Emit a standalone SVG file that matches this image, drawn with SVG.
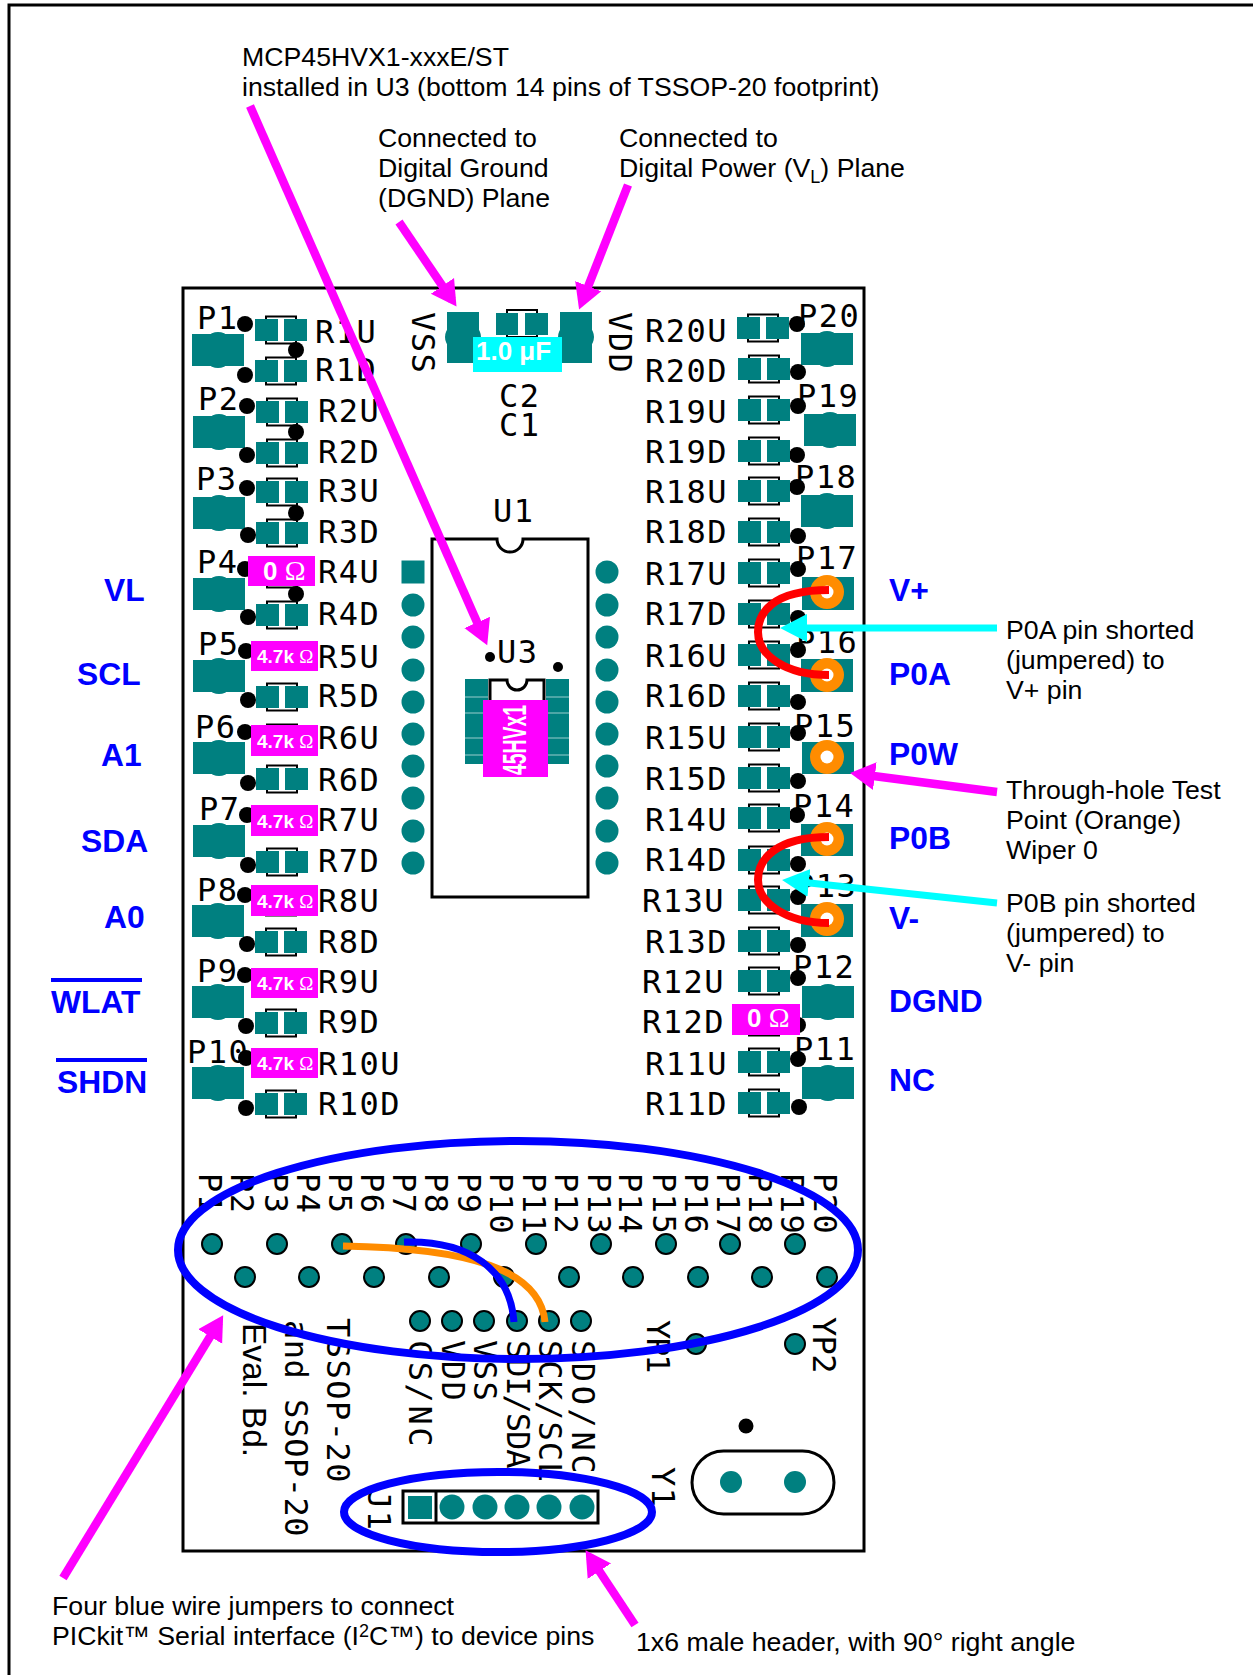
<svg xmlns="http://www.w3.org/2000/svg" width="1253" height="1675" viewBox="0 0 1253 1675">
<style>
.pcb{font-family:'DejaVu Sans Mono',monospace;font-size:32px;letter-spacing:1.500px;fill:#000}
.ann{font-family:'Liberation Sans',Arial,sans-serif;font-size:26.700px;fill:#000}
.sig{font-family:'Liberation Sans',Arial,sans-serif;font-size:31.800px;font-weight:bold;fill:#00f}
.lab{font-family:'Liberation Sans',Arial,sans-serif;font-weight:bold;fill:#fff}
.om{font-family:'Liberation Serif',serif;font-weight:normal}
.teal{fill:#008080}
.th{fill:#008080;stroke:#000;stroke-width:2}
.dot{fill:#000}
.mag{fill:#f0f}
.line{fill:none;stroke:#000;stroke-width:3}
.ma{fill:none;stroke:#f0f;stroke-width:8.500;marker-end:url(#mh)}
.ca{fill:none;stroke:#0ff;stroke-width:7;marker-end:url(#ch)}
.ring{fill:none;stroke:#00f;stroke-width:8}
.jump{fill:none;stroke:#f00;stroke-width:8}
</style>
<defs>
<marker id="mh" markerUnits="userSpaceOnUse" markerWidth="26" markerHeight="30" refX="17" refY="15" orient="auto"><path d="M0 1L25 15L0 29Z" fill="#f0f"/></marker>
<marker id="ch" markerUnits="userSpaceOnUse" markerWidth="28" markerHeight="30" refX="18" refY="15" orient="auto"><path d="M0 1L27 15L0 29Z" fill="#0ff"/></marker>
<g id="res"><rect x="11" y="-13.500" width="30" height="27" fill="none" stroke="#000" stroke-width="2"/><rect x="0" y="-11" width="23" height="22" class="teal"/><rect x="29" y="-11" width="23" height="22" class="teal"/></g>
<g id="bp"><rect x="0" y="-16" width="52" height="32" class="teal"/><ellipse cx="26" cy="0" rx="16" ry="18" class="teal"/></g>
<g id="tp"><circle r="17" fill="#ff8c00"/><circle r="6.500" fill="#fff"/></g>
</defs>
<rect id="frame" x="9" y="5" width="1300" height="1720" fill="#fff" stroke="#000" stroke-width="3"/>
<rect id="board" x="183" y="288" width="681" height="1263" class="line" fill="none"/>

<g id="p1"><use href="#bp" x="192" y="350"/><circle class="dot" cx="245" cy="324" r="8"/><circle class="dot" cx="245" cy="375" r="8"/><circle class="dot" cx="296" cy="350" r="8"/><text class="pcb" x="197" y="329">P1</text></g>
<g id="p2"><use href="#bp" x="193" y="432"/><circle class="dot" cx="247" cy="406" r="8"/><circle class="dot" cx="247" cy="455" r="8"/><circle class="dot" cx="296" cy="432" r="8"/><text class="pcb" x="198" y="410">P2</text></g>
<g id="p3"><use href="#bp" x="193" y="513"/><circle class="dot" cx="247" cy="488" r="8"/><circle class="dot" cx="248" cy="535" r="8"/><circle class="dot" cx="296" cy="513" r="8"/><text class="pcb" x="196" y="490">P3</text></g>
<g id="p4"><use href="#bp" x="193" y="594"/><circle class="dot" cx="245" cy="569" r="8"/><circle class="dot" cx="248" cy="617" r="8"/><circle class="dot" cx="296" cy="594" r="8"/><text class="pcb" x="197" y="573">P4</text></g>
<g id="p5"><use href="#bp" x="193" y="676"/><circle class="dot" cx="246" cy="651" r="8"/><circle class="dot" cx="248" cy="700" r="8"/><text class="pcb" x="198" y="655">P5</text></g>
<g id="p6"><use href="#bp" x="193" y="758"/><circle class="dot" cx="245" cy="732" r="8"/><circle class="dot" cx="248" cy="783" r="8"/><text class="pcb" x="195" y="738">P6</text></g>
<g id="p7"><use href="#bp" x="193" y="841"/><circle class="dot" cx="247" cy="815" r="8"/><circle class="dot" cx="248" cy="865" r="8"/><text class="pcb" x="199" y="820">P7</text></g>
<g id="p8"><use href="#bp" x="192" y="921"/><circle class="dot" cx="245" cy="895" r="8"/><circle class="dot" cx="247" cy="944" r="8"/><text class="pcb" x="197" y="901">P8</text></g>
<g id="p9"><use href="#bp" x="192" y="1002"/><circle class="dot" cx="245" cy="975" r="8"/><circle class="dot" cx="246" cy="1026" r="8"/><text class="pcb" x="197" y="982">P9</text></g>
<g id="p10"><use href="#bp" x="192" y="1083"/><circle class="dot" cx="246" cy="1058" r="8"/><circle class="dot" cx="246" cy="1108" r="8"/><text class="pcb" x="187" y="1063">P10</text></g>

<g id="r1u"><use href="#res" x="255" y="330"/><text class="pcb" x="315" y="343">R1U</text></g>
<g id="r1d"><use href="#res" x="255" y="371"/><text class="pcb" x="315" y="381">R1D</text></g>
<g id="r2u"><use href="#res" x="256" y="412"/><text class="pcb" x="318" y="422">R2U</text></g>
<g id="r2d"><use href="#res" x="256" y="453"/><text class="pcb" x="318" y="463">R2D</text></g>
<g id="r3u"><use href="#res" x="256" y="492"/><text class="pcb" x="318" y="502">R3U</text></g>
<g id="r3d"><use href="#res" x="256" y="533"/><text class="pcb" x="318" y="543">R3D</text></g>
<g id="r4u"><use href="#res" x="256" y="574"/><rect class="mag" x="248" y="556" width="67" height="30"/><text class="lab" x="263" y="580" font-size="26" font-family="Liberation Serif">0 <tspan class="om" font-size="28">Ω</tspan></text><text class="pcb" x="318" y="583">R4U</text></g>
<g id="r4d"><use href="#res" x="256" y="615"/><text class="pcb" x="318" y="625">R4D</text></g>
<g id="r5u"><use href="#res" x="256" y="656"/><rect class="mag" x="251" y="641" width="67" height="30"/><text class="lab" x="257" y="663" font-size="19">4.7k <tspan class="om">Ω</tspan></text><text class="pcb" x="318" y="668">R5U</text></g>
<g id="r5d"><use href="#res" x="256" y="697"/><text class="pcb" x="318" y="707">R5D</text></g>
<g id="r6u"><use href="#res" x="256" y="738"/><rect class="mag" x="251" y="725" width="67" height="31"/><text class="lab" x="257" y="748" font-size="19">4.7k <tspan class="om">Ω</tspan></text><text class="pcb" x="318" y="749">R6U</text></g>
<g id="r6d"><use href="#res" x="256" y="779"/><text class="pcb" x="318" y="791">R6D</text></g>
<g id="r7u"><use href="#res" x="256" y="820"/><rect class="mag" x="251" y="805" width="67" height="31"/><text class="lab" x="257" y="828" font-size="19">4.7k <tspan class="om">Ω</tspan></text><text class="pcb" x="318" y="831">R7U</text></g>
<g id="r7d"><use href="#res" x="256" y="862"/><text class="pcb" x="318" y="872">R7D</text></g>
<g id="r8u"><use href="#res" x="255" y="902"/><rect class="mag" x="251" y="885" width="67" height="31"/><text class="lab" x="257" y="908" font-size="19">4.7k <tspan class="om">Ω</tspan></text><text class="pcb" x="318" y="912">R8U</text></g>
<g id="r8d"><use href="#res" x="255" y="942"/><text class="pcb" x="318" y="953">R8D</text></g>
<g id="r9u"><use href="#res" x="255" y="983"/><rect class="mag" x="251" y="968" width="67" height="30"/><text class="lab" x="257" y="990" font-size="19">4.7k <tspan class="om">Ω</tspan></text><text class="pcb" x="318" y="993">R9U</text></g>
<g id="r9d"><use href="#res" x="255" y="1023"/><text class="pcb" x="318" y="1033">R9D</text></g>
<g id="r10u"><use href="#res" x="255" y="1063"/><rect class="mag" x="251" y="1048" width="67" height="30"/><text class="lab" x="257" y="1070" font-size="19">4.7k <tspan class="om">Ω</tspan></text><text class="pcb" x="318" y="1075">R10U</text></g>
<g id="r10d"><use href="#res" x="255" y="1104"/><text class="pcb" x="318" y="1115">R10D</text></g>

<g id="p20"><use href="#bp" x="801" y="349"/><circle class="dot" cx="797" cy="324" r="8"/><circle class="dot" cx="798" cy="372" r="8"/><text class="pcb" x="798" y="327">P20</text></g>
<g id="p19"><use href="#bp" x="804" y="430"/><circle class="dot" cx="798" cy="406" r="8"/><circle class="dot" cx="797" cy="455" r="8"/><text class="pcb" x="797" y="407">P19</text></g>
<g id="p18"><use href="#bp" x="801" y="511"/><circle class="dot" cx="797" cy="487" r="8"/><circle class="dot" cx="798" cy="536" r="8"/><text class="pcb" x="795" y="488">P18</text></g>
<g id="p17"><rect class="teal" x="802" y="577" width="52" height="33"/><circle class="dot" cx="798" cy="569" r="8"/><circle class="dot" cx="798" cy="618" r="8"/><text class="pcb" x="796" y="569">P17</text><use href="#tp" x="827" y="592"/></g>
<g id="p16"><rect class="teal" x="801" y="659" width="52" height="33"/><circle class="dot" cx="798" cy="650" r="8"/><circle class="dot" cx="798" cy="702" r="8"/><text class="pcb" x="796" y="653">P16</text><use href="#tp" x="827" y="675"/></g>
<g id="p15"><rect class="teal" x="802" y="742" width="52" height="32"/><circle class="dot" cx="798" cy="733" r="8"/><circle class="dot" cx="798" cy="781" r="8"/><text class="pcb" x="794" y="737">P15</text><use href="#tp" x="827" y="757"/></g>
<g id="p14"><rect class="teal" x="801" y="824" width="52" height="32"/><circle class="dot" cx="797" cy="815" r="8"/><circle class="dot" cx="798" cy="864" r="8"/><text class="pcb" x="793" y="817">P14</text><use href="#tp" x="827" y="839"/></g>
<g id="p13"><rect class="teal" x="801" y="904" width="52" height="33"/><text class="pcb" x="795" y="897">P13</text><circle class="dot" cx="798" cy="897" r="8"/><circle class="dot" cx="798" cy="945" r="8"/><use href="#tp" x="827" y="919"/></g>
<g id="p12"><use href="#bp" x="802" y="1002"/><circle class="dot" cx="798" cy="978" r="8"/><circle class="dot" cx="798" cy="1025" r="8"/><text class="pcb" x="793" y="978">P12</text></g>
<g id="p11"><use href="#bp" x="802" y="1083"/><circle class="dot" cx="798" cy="1059" r="8"/><circle class="dot" cx="799" cy="1107" r="8"/><text class="pcb" x="794" y="1060">P11</text></g>

<g id="r20u"><use href="#res" x="737" y="328"/><text class="pcb" x="645" y="342">R20U</text></g>
<g id="r20d"><use href="#res" x="738" y="369"/><text class="pcb" x="645" y="382">R20D</text></g>
<g id="r19u"><use href="#res" x="738" y="410"/><text class="pcb" x="645" y="423">R19U</text></g>
<g id="r19d"><use href="#res" x="738" y="451"/><text class="pcb" x="645" y="463">R19D</text></g>
<g id="r18u"><use href="#res" x="738" y="491"/><text class="pcb" x="645" y="503">R18U</text></g>
<g id="r18d"><use href="#res" x="738" y="532"/><text class="pcb" x="645" y="543">R18D</text></g>
<g id="r17u"><use href="#res" x="738" y="573"/><text class="pcb" x="645" y="585">R17U</text></g>
<g id="r17d"><use href="#res" x="738" y="614"/><text class="pcb" x="645" y="625">R17D</text></g>
<g id="r16u"><use href="#res" x="738" y="655"/><text class="pcb" x="645" y="667">R16U</text></g>
<g id="r16d"><use href="#res" x="738" y="696"/><text class="pcb" x="645" y="707">R16D</text></g>
<g id="r15u"><use href="#res" x="738" y="737"/><text class="pcb" x="645" y="749">R15U</text></g>
<g id="r15d"><use href="#res" x="738" y="778"/><text class="pcb" x="645" y="790">R15D</text></g>
<g id="r14u"><use href="#res" x="738" y="818"/><text class="pcb" x="645" y="831">R14U</text></g>
<g id="r14d"><use href="#res" x="738" y="860"/><text class="pcb" x="645" y="871">R14D</text></g>
<g id="r13u"><use href="#res" x="738" y="900"/><text class="pcb" x="642" y="912">R13U</text></g>
<g id="r13d"><use href="#res" x="738" y="941"/><text class="pcb" x="645" y="953">R13D</text></g>
<g id="r12u"><use href="#res" x="738" y="981"/><text class="pcb" x="642" y="993">R12U</text></g>
<g id="r12d"><use href="#res" x="738" y="1022"/><rect class="mag" x="732" y="1004" width="68" height="31"/><text class="lab" x="747" y="1027" font-size="26" font-family="Liberation Serif">0 <tspan class="om" font-size="28">Ω</tspan></text><text class="pcb" x="642" y="1033">R12D</text></g>
<g id="r11u"><use href="#res" x="738" y="1062"/><text class="pcb" x="645" y="1075">R11U</text></g>
<g id="r11d"><use href="#res" x="738" y="1103"/><text class="pcb" x="645" y="1115">R11D</text></g>

<g id="c1c2">
<rect class="teal" x="447" y="312" width="32" height="51"/><ellipse class="teal" cx="463" cy="337" rx="18" ry="16"/>
<rect class="teal" x="560" y="312" width="32" height="51"/><ellipse class="teal" cx="576" cy="337" rx="18" ry="16"/>
<rect x="507" y="310" width="30" height="27" fill="none" stroke="#000" stroke-width="2"/>
<rect class="teal" x="496" y="313" width="22" height="22"/><rect class="teal" x="525" y="313" width="23" height="22"/>
<rect x="473" y="337" width="89" height="35" fill="#0ff"/>
<text class="lab" x="476" y="360" font-size="26">1.0 μF</text>
<text class="pcb" x="499" y="407">C2</text><text class="pcb" x="499" y="436">C1</text>
<text class="pcb" transform="rotate(90 412 312)" x="412" y="312">VSS</text>
<text class="pcb" transform="rotate(90 609 312)" x="609" y="312">VDD</text>
</g>

<g id="u1">
<path class="line" d="M497 539H432V897H588V539H523A13 13 0 0 1 497 539Z"/>
<text class="pcb" x="493" y="522">U1</text>
<rect class="teal" x="401.500" y="560.500" width="23" height="23"/>
<circle class="teal" cx="413" cy="605" r="11.500"/><circle class="teal" cx="413" cy="637" r="11.500"/><circle class="teal" cx="413" cy="670" r="11.500"/><circle class="teal" cx="413" cy="702" r="11.500"/><circle class="teal" cx="413" cy="734" r="11.500"/><circle class="teal" cx="413" cy="766" r="11.500"/><circle class="teal" cx="413" cy="798" r="11.500"/><circle class="teal" cx="413" cy="831" r="11.500"/><circle class="teal" cx="413" cy="863" r="11.500"/>
<circle class="teal" cx="607" cy="572" r="11.500"/><circle class="teal" cx="607" cy="605" r="11.500"/><circle class="teal" cx="607" cy="637" r="11.500"/><circle class="teal" cx="607" cy="670" r="11.500"/><circle class="teal" cx="607" cy="702" r="11.500"/><circle class="teal" cx="607" cy="734" r="11.500"/><circle class="teal" cx="607" cy="766" r="11.500"/><circle class="teal" cx="607" cy="798" r="11.500"/><circle class="teal" cx="607" cy="831" r="11.500"/><circle class="teal" cx="607" cy="863" r="11.500"/>
</g>
<g id="u3">
<circle class="dot" cx="490" cy="657" r="5"/><circle class="dot" cx="558" cy="667" r="5"/>
<text class="pcb" x="497" y="663">U3</text>
<rect class="teal" x="465" y="679" width="23" height="85"/><rect class="teal" x="546" y="679" width="23" height="85"/>
<path d="M465 697H488M465 713H488M465 738H488M465 755H488M546 697H569M546 713H569M546 738H569M546 755H569" stroke="#9cc" stroke-width="1"/>
<path class="line" d="M490 720V680H507A10 10 0 0 0 527 680H544V720"/>
<rect class="mag" x="483" y="700" width="65" height="77"/>
<text class="ann" transform="rotate(-90 526 775)" x="526" y="775" textLength="70" lengthAdjust="spacingAndGlyphs" style="font-size:33px;font-weight:bold;fill:#fff">45HVx1</text>
</g>

<g id="testpoints">
<circle class="th" cx="212" cy="1244" r="10"/><circle class="th" cx="277" cy="1244" r="10"/><circle class="th" cx="342" cy="1244" r="10"/><circle class="th" cx="406" cy="1244" r="10"/><circle class="th" cx="471" cy="1244" r="10"/><circle class="th" cx="536" cy="1244" r="10"/><circle class="th" cx="601" cy="1244" r="10"/><circle class="th" cx="666" cy="1244" r="10"/><circle class="th" cx="730" cy="1244" r="10"/><circle class="th" cx="795" cy="1244" r="10"/>
<circle class="th" cx="245" cy="1277" r="10"/><circle class="th" cx="309" cy="1277" r="10"/><circle class="th" cx="374" cy="1277" r="10"/><circle class="th" cx="439" cy="1277" r="10"/><circle class="th" cx="504" cy="1277" r="10"/><circle class="th" cx="569" cy="1277" r="10"/><circle class="th" cx="633" cy="1277" r="10"/><circle class="th" cx="698" cy="1277" r="10"/><circle class="th" cx="762" cy="1277" r="10"/><circle class="th" cx="827" cy="1277" r="10"/>
<circle class="th" cx="420" cy="1321" r="10"/><circle class="th" cx="452" cy="1321" r="10"/><circle class="th" cx="484" cy="1321" r="10"/><circle class="th" cx="517" cy="1321" r="10"/><circle class="th" cx="549" cy="1321" r="10"/><circle class="th" cx="581" cy="1321" r="10"/>
<circle class="th" cx="696" cy="1344" r="10"/><circle class="th" cx="795" cy="1344" r="10"/>
</g>
<g id="tp-labels">
<text class="pcb" transform="rotate(90 199 1173)" x="199" y="1173">P1</text>
<text class="pcb" transform="rotate(90 231 1173)" x="231" y="1173">P2</text>
<text class="pcb" transform="rotate(90 265 1173)" x="265" y="1173">P3</text>
<text class="pcb" transform="rotate(90 297 1173)" x="297" y="1173">P4</text>
<text class="pcb" transform="rotate(90 329 1173)" x="329" y="1173">P5</text>
<text class="pcb" transform="rotate(90 361 1173)" x="361" y="1173">P6</text>
<text class="pcb" transform="rotate(90 393 1173)" x="393" y="1173">P7</text>
<text class="pcb" transform="rotate(90 425 1173)" x="425" y="1173">P8</text>
<text class="pcb" transform="rotate(90 458 1173)" x="458" y="1173">P9</text>
<text class="pcb" transform="rotate(90 490 1173)" x="490" y="1173">P10</text>
<text class="pcb" transform="rotate(90 523 1173)" x="523" y="1173">P11</text>
<text class="pcb" transform="rotate(90 555 1173)" x="555" y="1173">P12</text>
<text class="pcb" transform="rotate(90 588 1173)" x="588" y="1173">P13</text>
<text class="pcb" transform="rotate(90 619 1173)" x="619" y="1173">P14</text>
<text class="pcb" transform="rotate(90 653 1173)" x="653" y="1173">P15</text>
<text class="pcb" transform="rotate(90 685 1173)" x="685" y="1173">P16</text>
<text class="pcb" transform="rotate(90 717 1173)" x="717" y="1173">P17</text>
<text class="pcb" transform="rotate(90 749 1173)" x="749" y="1173">P18</text>
<text class="pcb" transform="rotate(90 781 1173)" x="781" y="1173">P19</text>
<text class="pcb" transform="rotate(90 814 1173)" x="814" y="1173">P20</text>
<text class="pcb" transform="rotate(90 327 1318)" x="327" y="1318">TSSOP-20</text>
<text class="pcb" transform="rotate(90 285 1320)" x="285" y="1320" textLength="218">and SSOP-20</text>
<text class="ann" transform="rotate(90 243 1323)" x="243" y="1323" style="font-size:33.500px">Eval. Bd.</text>
<text class="pcb" transform="rotate(90 409 1340)" x="409" y="1340" textLength="108">CS/NC</text>
<text class="pcb" transform="rotate(90 442 1340)" x="442" y="1340">VDD</text>
<text class="pcb" transform="rotate(90 474 1340)" x="474" y="1340">VSS</text>
<text class="pcb" transform="rotate(90 507 1340)" x="507" y="1340" textLength="130">SDI/SDA</text>
<text class="pcb" transform="rotate(90 539 1340)" x="539" y="1340" textLength="143">SCK/SCL</text>
<text class="pcb" transform="rotate(90 572 1340)" x="572" y="1340" textLength="135">SDO/NC</text>
<text class="pcb" transform="rotate(90 647 1320)" x="647" y="1320" textLength="55">YP1</text>
<text class="pcb" transform="rotate(90 813 1317)" x="813" y="1317" textLength="58">YP2</text>
<text class="pcb" transform="rotate(90 652 1467)" x="652" y="1467">Y1</text>
<text class="pcb" transform="rotate(90 368 1490)" x="368" y="1490">J1</text>
</g>
<g id="j1">
<rect class="line" x="403" y="1491" width="195" height="32"/><path class="line" d="M436 1491V1523"/>
<rect class="teal" x="408" y="1496" width="24" height="23"/>
<circle class="teal" cx="452" cy="1507" r="12.500"/><circle class="teal" cx="485" cy="1507" r="12.500"/><circle class="teal" cx="517" cy="1507" r="12.500"/><circle class="teal" cx="549" cy="1507" r="12.500"/><circle class="teal" cx="582" cy="1507" r="12.500"/>
</g>
<g id="y1">
<rect class="line" x="692" y="1451" width="142" height="63" rx="31.500"/>
<circle class="teal" cx="731" cy="1482" r="11"/><circle class="teal" cx="795" cy="1482" r="11"/>
<circle class="dot" cx="746" cy="1426" r="7.500"/>
</g>

<g id="connectors">
<path class="jump" d="M829 590C770 590 758 615 758 632C758 655 785 675 829 675"/>
<path class="jump" d="M829 837C775 837 758 860 758 880C758 902 785 923 829 923"/>
<path class="ma" d="M250 106L484 638"/>
<path class="ma" d="M399 222L452 300"/>
<path class="ma" d="M628 185L582 302"/>
<path class="ma" d="M997 792L858 774"/>
<path class="ma" d="M63 1578L219 1322"/>
<path class="ma" d="M635 1625L590 1557"/>
<path class="ca" d="M997 628H789"/>
<path class="ca" d="M997 903L791 881"/>
<ellipse class="ring" cx="518" cy="1250" rx="340" ry="109"/>
<ellipse class="ring" cx="498" cy="1512" rx="154" ry="40"/>
<path d="M343 1246C470 1248 540 1270 545 1322" fill="none" stroke="#ff8c00" stroke-width="7"/>
<path d="M404 1242C470 1240 510 1270 514 1322" fill="none" stroke="#00f" stroke-width="7"/>
</g>

<g id="signals">
<text class="sig" x="104" y="601">VL</text>
<text class="sig" x="77" y="685">SCL</text>
<text class="sig" x="101" y="766">A1</text>
<text class="sig" x="81" y="852">SDA</text>
<text class="sig" x="104" y="928">A0</text>
<text class="sig" x="51" y="1013">WLAT</text><rect x="51" y="978" width="91" height="4" fill="#00f"/>
<text class="sig" x="57" y="1093">SHDN</text><rect x="56" y="1058" width="91" height="4" fill="#00f"/>
<text class="sig" x="889" y="601">V+</text>
<text class="sig" x="889" y="685">P0A</text>
<text class="sig" x="889" y="765">P0W</text>
<text class="sig" x="889" y="849">P0B</text>
<text class="sig" x="889" y="929">V-</text>
<text class="sig" x="889" y="1012">DGND</text>
<text class="sig" x="889" y="1091">NC</text>
</g>
<g id="annotations">
<text class="ann" x="242" y="66">MCP45HVX1-xxxE/ST</text>
<text class="ann" x="242" y="96">installed in U3 (bottom 14 pins of TSSOP-20 footprint)</text>
<text class="ann" x="378" y="147">Connected to</text>
<text class="ann" x="378" y="177">Digital Ground</text>
<text class="ann" x="378" y="207">(DGND) Plane</text>
<text class="ann" x="619" y="147">Connected to</text>
<text class="ann" x="619" y="177">Digital Power (V<tspan dy="6" font-size="18">L</tspan><tspan dy="-6">) Plane</tspan></text>
<text class="ann" x="1006" y="639">P0A pin shorted</text>
<text class="ann" x="1006" y="669">(jumpered) to</text>
<text class="ann" x="1006" y="699">V+ pin</text>
<text class="ann" x="1006" y="799">Through-hole Test</text>
<text class="ann" x="1006" y="829">Point (Orange)</text>
<text class="ann" x="1006" y="859">Wiper 0</text>
<text class="ann" x="1006" y="912">P0B pin shorted</text>
<text class="ann" x="1006" y="942">(jumpered) to</text>
<text class="ann" x="1006" y="972">V- pin</text>
<text class="ann" x="52" y="1615">Four blue wire jumpers to connect</text>
<text class="ann" x="52" y="1645">PICkit™ Serial interface (I<tspan dy="-8" font-size="18">2</tspan><tspan dy="8">C™) to device pins</tspan></text>
<text class="ann" x="636" y="1651">1x6 male header, with 90° right angle</text>
</g>
</svg>
